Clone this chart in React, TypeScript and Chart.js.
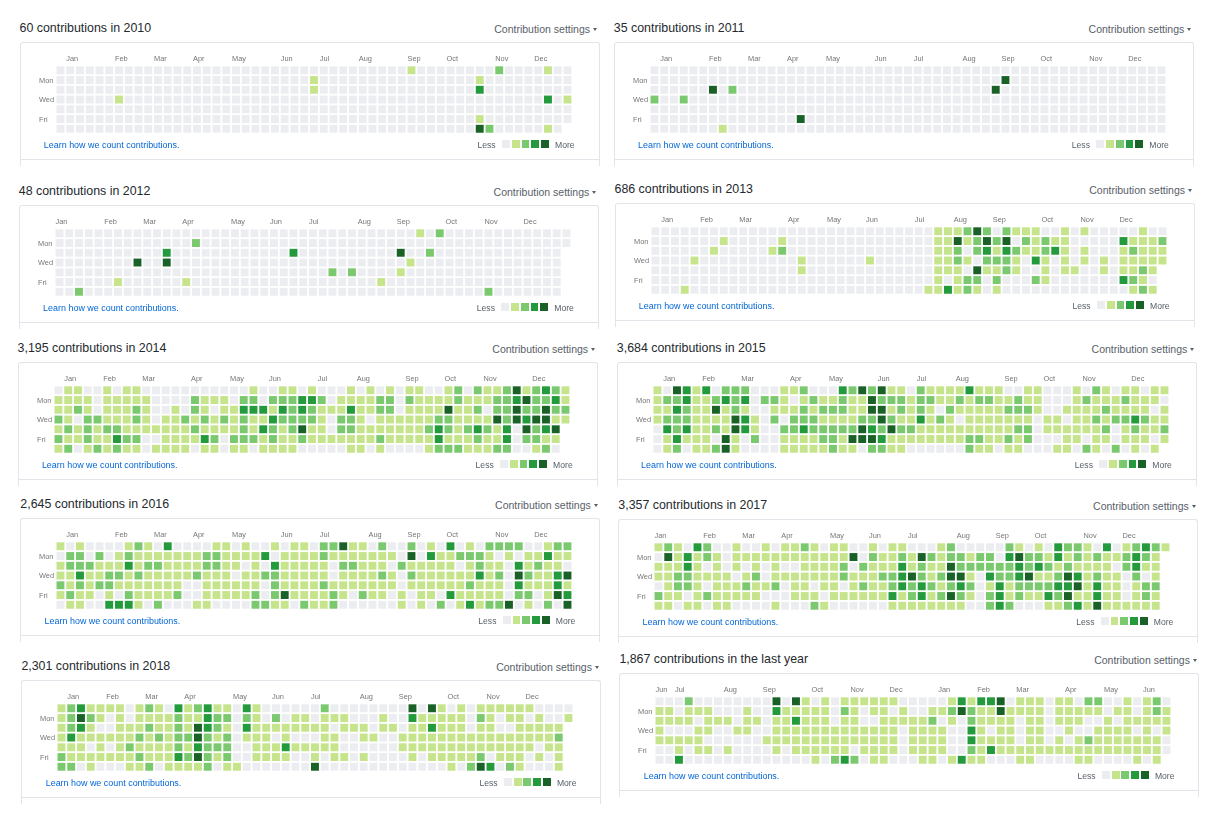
import React, { useEffect, useRef } from "react";
import { Chart, registerables } from "chart.js";

Chart.register(...registerables);

const FONT = '"Liberation Sans", Arial, sans-serif';
const LEVEL_COLORS = ["#ebedf0", "#c6e48b", "#7bc96f", "#239a3b", "#196127"];
const DAY_LABELS = ["Mon", "Wed", "Fri"];
const DAY_ROWS = [1, 3, 5];
const MONTHS = ["Jan", "Feb", "Mar", "Apr", "May", "Jun", "Jul", "Aug", "Sep", "Oct", "Nov", "Dec"];
const MONTHS_LAST = ["Jun", "Jul", "Aug", "Sep", "Oct", "Nov", "Dec", "Jan", "Feb", "Mar", "Apr", "May", "Jun"];

const TITLES = [
  "60 contributions in 2010",
  "35 contributions in 2011",
  "48 contributions in 2012",
  "686 contributions in 2013",
  "3,195 contributions in 2014",
  "3,684 contributions in 2015",
  "2,645 contributions in 2016",
  "3,357 contributions in 2017",
  "2,301 contributions in 2018",
  "1,867 contributions in the last year",
];

const BOX_LEFT = [19.5, 613.8, 18.8, 614.5, 17.6, 616.8, 20.3, 618.3, 21.4, 619.4];
const BOX_TOP = [42, 42, 205.3, 203, 362.3, 362.3, 518.3, 519.3, 680.3, 673.3];

const COLS_2010 = [1, 6, 10, 14, 18, 23, 27, 31, 36, 40, 45, 49];
const COLS_2011 = [1, 6, 10, 14, 18, 23, 27, 32, 36, 40, 45, 49];
const COLS_2012 = [0, 5, 9, 13, 18, 22, 26, 31, 35, 40, 44, 48];
const COLS_2013 = [1, 5, 9, 14, 18, 22, 27, 31, 35, 40, 44, 48];
const COLS_2014 = [1, 5, 9, 14, 18, 22, 27, 31, 36, 40, 44, 49];
const COLS_2015 = [1, 5, 9, 14, 18, 23, 27, 31, 36, 40, 44, 49];
const COLS_2016 = [1, 6, 10, 14, 18, 23, 27, 32, 36, 40, 45, 49];
const COLS_2017 = [0, 5, 9, 13, 18, 22, 26, 31, 35, 39, 44, 48];
const COLS_2018 = [1, 5, 9, 13, 18, 22, 26, 31, 35, 40, 44, 48];
const COLS_LAST = [0, 2, 7, 11, 16, 20, 24, 29, 33, 37, 42, 46, 50];

const Z = "0000000000";

const GRID_2010 = [
  `${Z} ${Z} ${Z} 0000001000 0000020000 100`,
  `${Z} ${Z} 0000001000 ${Z} 0001000000 000`,
  `${Z} ${Z} 0000001000 ${Z} 0003000000 000`,
  `0000001000 ${Z} ${Z} ${Z} ${Z} 301`,
  `${Z} ${Z} ${Z} ${Z} ${Z} 000`,
  `${Z} ${Z} ${Z} ${Z} 0001000000 000`,
  `${Z} ${Z} ${Z} ${Z} 0004200000 10`,
];
const GRID_2011 = [
  `${Z} ${Z} ${Z} ${Z} ${Z} 000`,
  `${Z} ${Z} ${Z} 0000004000 ${Z} 000`,
  `0000004020 ${Z} ${Z} 0000040000 ${Z} 000`,
  `2002000000 ${Z} ${Z} ${Z} ${Z} 000`,
  `${Z} ${Z} ${Z} ${Z} ${Z} 000`,
  `${Z} 0000040000 ${Z} ${Z} ${Z} 000`,
  `0000000100 ${Z} ${Z} ${Z} ${Z} 000`,
];
const GRID_2012 = [
  `${Z} ${Z} ${Z} 0000000102 ${Z} 000`,
  `${Z} 0000200000 ${Z} ${Z} ${Z} 000`,
  `${Z} 0300000000 0000300000 0000040020 ${Z} 00`,
  `0000000040 0400000000 ${Z} 0000001000 ${Z} 00`,
  `${Z} ${Z} 0000000020 2000010000 ${Z} 00`,
  `0000001000 0001000000 ${Z} 0001000000 ${Z} 00`,
  `0020000000 ${Z} ${Z} ${Z} 0000200000 00`,
];
const GRID_2013 = [
  `${Z} ${Z} 0000000001 1124202111 0010100000 100`,
  `0000000100 0001000000 0000000001 1412424021 2110000031 112`,
  `0000001000 0012000000 0000000001 1202313211 2310100012 111`,
  `0000100000 0000010000 0010000001 1210222103 1010101011 111`,
  `${Z} 0000010000 0000000001 1104112100 1011001011 21`,
  `${Z} ${Z} 0000000001 0122020002 1000000032 10`,
  `0001000000 ${Z} 0000000011 3121010000 0000000001 21`,
];
const GRID_2014 = [
  "0110010110 0000000000 1001101000 1010101100 1202112412 321",
  "1111011111 0000211102 2022233201 1112202111 1211122342 231",
  "1121011121 0010210113 3313232111 3112201111 4112022422 422",
  "2102211121 0112121212 1132222102 2101111112 2111142434 411",
  "1212122111 1111211112 1321241102 2111111123 2123213042 34",
  "2112113220 0111132022 2121121111 1112111113 1112113022 11",
  "1201212110 1111011011 0111100000 1101000012 2211122001 20",
];
const GRID_2015 = [
  "1043130222 0001120003 2424110211 1131110011 0001021011 011",
  "1223112323 0221012112 1142221221 1212211211 0001211121 110",
  "1132114121 0011121222 1144121210 2111112221 0011112111 101",
  "1222111143 1020222111 1224211312 1011111110 1101121223 211",
  "0323112143 1002232222 2432422111 1111111220 1111112012 112",
  "0131110410 2001111221 4443111111 1122112120 0011011011 101",
  "0120112410 0001111121 1022110000 0021101100 0110210201 01",
];
const GRID_2016 = [
  "1010000121 0300001101 0010110224 1102002010 3010222200 122",
  "0220201211 1111122111 1301111211 1111104031 1222101011 311",
  "1222111312 2111122110 1031111102 2111021111 1012110312 110",
  "1131122121 1111211101 1221111101 1112102111 1113120421 134",
  "2121221111 1110011111 1021111211 1111101111 1121110311 131",
  "1211010211 1120011111 2024111121 0211010110 3111110220 143",
  "0110033310 2000110000 2211021120 0000010102 0131224010 204",
];
const GRID_2017 = [
  "1210320010 0101121011 0010110001 2000002101 0322103012 321",
  "0413121011 1111111111 4021121421 2212203422 1312121123 21",
  "1113101010 1010011112 0211131211 4222222323 2121111023 11",
  "1122111101 2011111112 1112234212 4410322341 1243121102 01",
  "0122101112 1120110110 1211232321 2320131222 2334131101 22",
  "2110121111 1000111011 1111312312 4210231211 3241131101 21",
  "1101101100 0010002100 0000111111 1100232000 1123141111 11",
];
const GRID_2018 = [
  "1231111012 1031231103 1000000200 0000004041 0101111110 000",
  "1242101011 1121132202 1020110111 0001003111 1102101101 001",
  "1231001112 1121432103 1111111101 1101101131 1101100111 11",
  "1311111121 2122421201 1101000110 0110011111 1111111111 12",
  "1110101211 1121322200 1113111110 0000011111 1111111110 11",
  "2111111121 1132421200 1111001011 0100001011 1112011101 01",
  "2201000112 0111120110 0000004000 0000000000 1024302100 01",
];
const GRID_LAST = [
  "0002000000 0040410101 1111100000 1313340111 0110220010 120",
  "1101110001 0031111102 1011010011 2421141111 0111110110 121",
  "1111011101 1011311101 1001111120 1021111011 0111001011 111",
  "1000110011 0011111111 1111101111 0031011011 0010011110 101",
  "1111100000 0111111111 1111101111 0031111011 0101211111 110",
  "0010110100 0010111111 0111101111 0021311111 1111111111 110",
  "0030000000 0000001023 2011000110 1311000110 0001100001 01",
];

const GRIDS = [GRID_2010, GRID_2011, GRID_2012, GRID_2013, GRID_2014, GRID_2015, GRID_2016, GRID_2017, GRID_2018, GRID_LAST];
const MONTH_COLS = [COLS_2010, COLS_2011, COLS_2012, COLS_2013, COLS_2014, COLS_2015, COLS_2016, COLS_2017, COLS_2018, COLS_LAST];

const PITCH = 9.75;
const CELL = 7.9;
const CANVAS_W = 580;
const CANVAS_H = 110;
const AXIS_LEFT = 16.6;
const PAD_LEFT = 19;
const AXIS_TOP = 23.4;
// Month labels start at a column's left edge; day labels sit slightly under their row centre.
const MONTH_TICK_SHIFT = -0.41;
const DAY_TICK_SHIFT = 0.08;

function Heatmap({ index }: { index: number }) {
  const ref = useRef<HTMLCanvasElement | null>(null);
  useEffect(() => {
    if (!ref.current) return;
    const grid = GRIDS[index];
    const cols = MONTH_COLS[index];
    const labels = index === 9 ? MONTHS_LAST : MONTHS;
    const points: { x: number; y: number }[] = [];
    const colors: string[] = [];
    grid.forEach((row, y) => {
      row.replace(/ /g, "").split("").forEach((ch, x) => {
        points.push({ x, y });
        colors.push(LEVEL_COLORS[Number(ch)]);
      });
    });
    const tickFont = { family: FONT, size: 7.4 };
    const chart = new Chart(ref.current, {
      type: "scatter",
      data: {
        datasets: [
          {
            data: points,
            pointStyle: "rect",
            pointRadius: CELL / Math.SQRT2,
            pointHoverRadius: CELL / Math.SQRT2,
            pointBorderWidth: 0,
            pointBackgroundColor: colors,
            clip: false,
          },
        ],
      },
      options: {
        animation: false,
        responsive: false,
        events: [],
        layout: {
          padding: {
            left: PAD_LEFT,
            top: 0,
            right: CANVAS_W - PAD_LEFT - AXIS_LEFT - 53 * PITCH,
            bottom: CANVAS_H - AXIS_TOP - 7 * PITCH,
          },
        },
        plugins: { legend: { display: false }, tooltip: { enabled: false } },
        scales: {
          x: {
            type: "linear",
            position: "top",
            min: -0.5,
            max: 52.5,
            grid: { display: false, drawTicks: false },
            border: { display: false },
            afterFit: (s: any) => {
              s.height = AXIS_TOP;
            },
            afterBuildTicks: (s: any) => {
              s.ticks = cols.map((col) => ({ value: col + MONTH_TICK_SHIFT }));
            },
            ticks: {
              autoSkip: false,
              maxRotation: 0,
              minRotation: 0,
              align: "start",
              padding: 2.4,
              color: "#767676",
              font: tickFont,
              callback: (_v: any, i: number) => labels[i],
            },
          },
          y: {
            type: "linear",
            reverse: true,
            min: -0.5,
            max: 6.5,
            grid: { display: false, drawTicks: false },
            border: { display: false },
            afterFit: (s: any) => {
              s.width = AXIS_LEFT;
            },
            afterBuildTicks: (s: any) => {
              s.ticks = DAY_ROWS.map((row) => ({ value: row + DAY_TICK_SHIFT }));
            },
            ticks: {
              autoSkip: false,
              crossAlign: "far",
              padding: 0,
              color: "#767676",
              font: tickFont,
              callback: (_v: any, i: number) => DAY_LABELS[i],
            },
          },
        },
      },
    } as any);
    return () => chart.destroy();
  }, [index]);
  return (
    <canvas
      ref={ref}
      width={CANVAS_W}
      height={CANVAS_H}
      style={{ position: "absolute", left: 0, top: 0 }}
    />
  );
}

function Panel({ index }: { index: number }) {
  const left = BOX_LEFT[index];
  const top = BOX_TOP[index];
  const text = (style: React.CSSProperties): React.CSSProperties => ({
    position: "absolute",
    whiteSpace: "nowrap",
    lineHeight: "14px",
    ...style,
  });
  return (
    <>
      <div style={text({ left, top: top - 21.5, fontSize: 12.4, color: "#24292e" })}>{TITLES[index]}</div>
      <div style={text({ left: left + 470, width: 100.5, textAlign: "right", top: top - 20.3, fontSize: 10.5, color: "#586069" })}>
        Contribution settings
      </div>
      <div
        style={{
          position: "absolute",
          left: left + 573.5,
          top: top - 14,
          width: 0,
          height: 0,
          borderLeft: "2.5px solid transparent",
          borderRight: "2.5px solid transparent",
          borderTop: "3px solid #586069",
        }}
      />
      <div
        style={{
          position: "absolute",
          left,
          top,
          width: CANVAS_W,
          height: 124,
          boxSizing: "border-box",
          border: "1px solid #e1e4e8",
          borderBottom: "none",
          borderRadius: "3px 3px 0 0",
        }}
      />
      <div style={{ position: "absolute", left, top: top + 117, width: CANVAS_W, height: 1, background: "#e1e4e8" }} />
      <div style={{ position: "absolute", left, top, width: CANVAS_W, height: CANVAS_H }}>
        <Heatmap index={index} />
      </div>
      <div style={text({ left: left + 24.3, top: top + 95.5, fontSize: 8.95, color: "#0366d6" })}>
        Learn how we count contributions.
      </div>
      <div style={text({ left: left + 458, top: top + 95.5, fontSize: 8.6, color: "#586069" })}>Less</div>
      {LEVEL_COLORS.map((c, i) => (
        <div
          key={c}
          style={{
            position: "absolute",
            left: left + 482.5 + i * PITCH,
            top: top + 98,
            width: CELL,
            height: CELL,
            background: c,
          }}
        />
      ))}
      <div style={text({ left: left + 535.5, top: top + 95.5, fontSize: 8.6, color: "#586069" })}>More</div>
    </>
  );
}

export default function App() {
  return (
    <div
      style={{
        position: "absolute",
        left: 0,
        top: 0,
        width: 1229,
        height: 828,
        overflow: "hidden",
        background: "#fff",
        fontFamily: FONT,
        filter: "blur(0.3px)",
      }}
    >
      {TITLES.map((_, i) => (
        <Panel key={i} index={i} />
      ))}
    </div>
  );
}
